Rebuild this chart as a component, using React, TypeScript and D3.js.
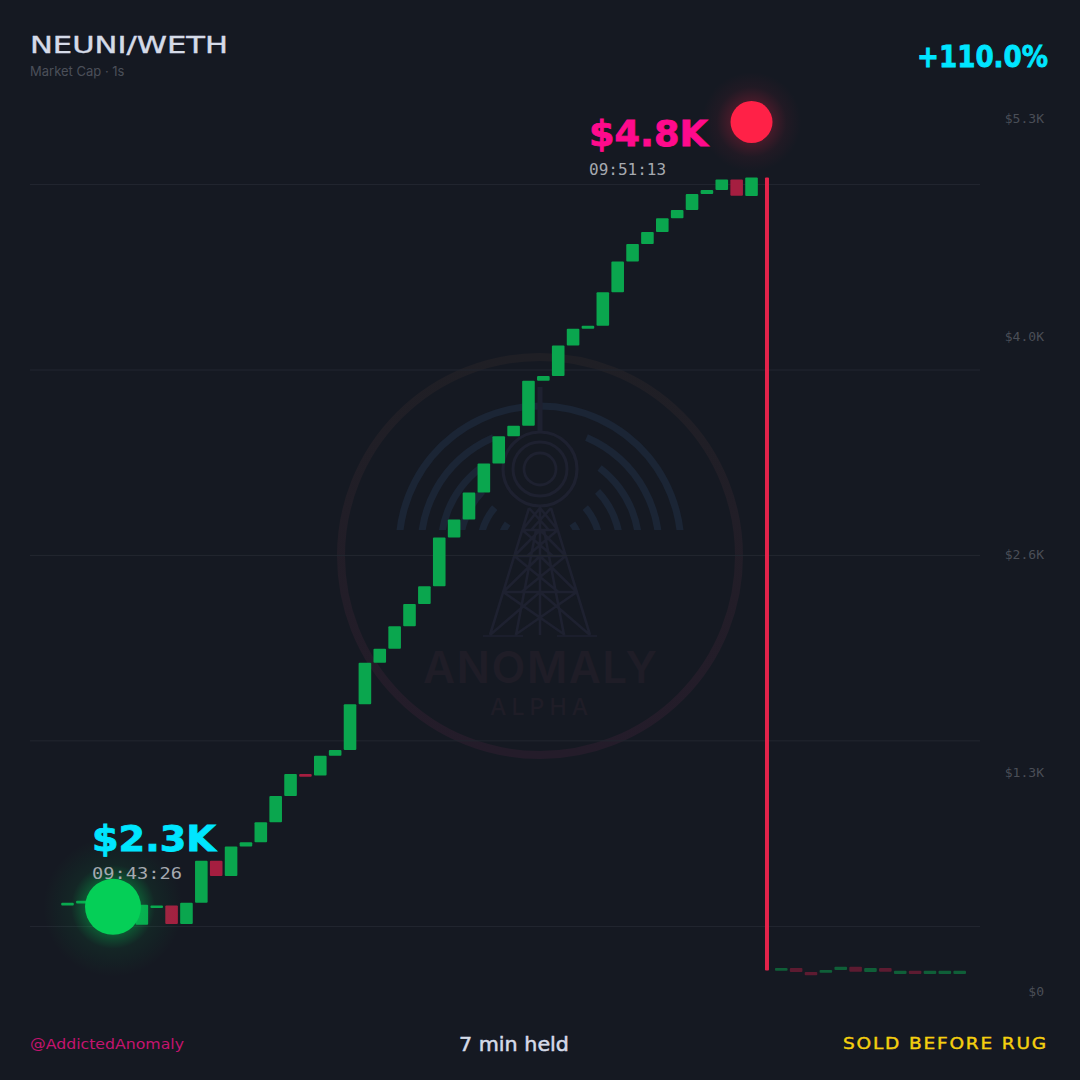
import React from "react";
import * as d3 from "d3";

const title = "NEUNI/WETH";
const subtitle = "Market Cap · 1s";
const gainLabel = "+110.0%";
const handle = "@AddictedAnomaly";
const heldLabel = "7 min held";
const statusLabel = "SOLD BEFORE RUG";

// candle open / close in dollars of market cap, one per second bucket
const opens = [2302, 2309, 2318, 2307, 2304, 2234, 2293, 2302, 2237, 2311, 2458, 2405, 2508, 2523, 2593, 2685, 2762, 2757, 2826, 2846, 3006, 3151, 3200, 3279, 3357, 3419, 3590, 3653, 3747, 3849, 3944, 3981, 4138, 4155, 4262, 4320, 4331, 4448, 4556, 4617, 4659, 4707, 4736, 4792, 4806, 4843, 4785, 4850, 2073, 2083, 2069, 2066, 2076, 2087, 2069, 2083, 2062, 2073, 2062, 2062, 2062];
const closes = [2311, 2318, 2307, 2304, 2234, 2304, 2302, 2237, 2311, 2458, 2405, 2508, 2523, 2593, 2685, 2762, 2752, 2826, 2846, 3006, 3151, 3200, 3279, 3357, 3419, 3590, 3653, 3747, 3849, 3944, 3981, 4138, 4155, 4262, 4320, 4331, 4448, 4556, 4617, 4659, 4707, 4736, 4792, 4806, 4843, 4786, 4850, 2074, 2083, 2069, 2058, 2076, 2087, 2070, 2083, 2070, 2073, 2062, 2073, 2073, 2073];
const rugIndex = 47;

const gridValues = [4825, 4176, 3527, 2878, 2228];
const axisLabels = ["$5.3K", "$4.0K", "$2.6K", "$1.3K", "$0"];

const entryIndex = 3;
const entryValue = 2297;
const entryLabel = "$2.3K";
const entryTime = "09:43:26";
const exitIndex = 46;
const exitLabel = "$4.8K";
const exitTime = "09:51:13";

const BG = "#151922";
const UP = "#0aa64e";
const DOWN = "#a51e40";
const CYAN = "#00e5ff";
const PINK = "#ff0a8c";
const MONO = "'DejaVu Sans Mono', monospace";
const WIDE = "'DejaVu Sans', sans-serif";

const x = d3.scaleLinear().domain([0, 60]).range([67.5, 959.7]);
const y = d3.scaleLinear().domain([2002.5, 5058]).range([991, 118]);
const axisY = d3.scalePoint<string>().domain(axisLabels).range([118, 991]);

const CX = 540;
const ARC_Y = 547;
const arcSpecs: [number, number][] = [
  [141, 0],
  [119, 23],
  [99, 37],
  [80, 46],
  [60, 49],
  [40, 54],
];

function towerPath() {
  const p = d3.path();
  const half = (yy: number) => 11 + ((yy - 508) / 127) * 39;
  const levels = [508, 530, 556, 592, 635];
  const seg = (a: number, b: number, c: number, d: number) => {
    p.moveTo(a, b);
    p.lineTo(c, d);
  };
  seg(CX - 11, 508, CX - 50, 635);
  seg(CX + 11, 508, CX + 50, 635);
  seg(CX, 505, CX, 635);
  seg(CX - 4, 530, CX - 24, 635);
  seg(CX + 4, 530, CX + 24, 635);
  levels.slice(0, -1).forEach((l, i) => {
    const n = levels[i + 1];
    seg(CX - half(l), l, CX + half(n) * 0.5, n);
    seg(CX + half(l), l, CX - half(n) * 0.5, n);
    seg(CX - half(n), n, CX, l);
    seg(CX + half(n), n, CX, l);
    if (i < 3) seg(CX - half(n), n, CX + half(n), n);
  });
  return p.toString();
}

function Watermark() {
  const arcGen = d3.arc();
  const rad = (deg: number) => (deg * Math.PI) / 180;
  return (
    <g>
      <circle cx={CX} cy={556} r={199} fill="none" stroke="url(#ringGrad)" strokeWidth={8} />
      <g clipPath="url(#arcClip)" fill="#1b2535">
        {arcSpecs.map(([r, start], i) => {
          const a = { innerRadius: r - 3.5, outerRadius: r + 3.5 };
          return start === 0 ? (
            <path key={i} transform={`translate(${CX},${ARC_Y})`} d={arcGen({ ...a, startAngle: rad(-100), endAngle: rad(100) }) as string} />
          ) : (
            <g key={i} transform={`translate(${CX},${ARC_Y})`}>
              <path d={arcGen({ ...a, startAngle: rad(start), endAngle: rad(100) }) as string} />
              <path d={arcGen({ ...a, startAngle: rad(-100), endAngle: rad(-start) }) as string} />
            </g>
          );
        })}
      </g>
      <g fill="none" stroke="#1e2130">
        <line x1={CX} y1={387} x2={CX} y2={432} strokeWidth={5} />
        <circle cx={CX} cy={469} r={37} strokeWidth={3.2} />
        <circle cx={CX} cy={469} r={27} strokeWidth={3} />
        <circle cx={CX} cy={469} r={16} strokeWidth={2.8} />
        <path d={towerPath()} strokeWidth={2.6} />
        <line x1={483} y1={636} x2={523} y2={636} strokeWidth={1.5} />
        <line x1={557} y1={636} x2={597} y2={636} strokeWidth={1.5} />
      </g>
      <text x={423} y={683} textLength={234} lengthAdjust="spacing" fontFamily="Inter, sans-serif" fontWeight={600} fontSize={44} fill="#1f1d27">ANOMALY</text>
      <text x={490} y={715} textLength={98} lengthAdjust="spacing" fontFamily="Inter, sans-serif" fontWeight={500} fontSize={23} fill="#1f1d27">ALPHA</text>
    </g>
  );
}

export default function App() {
  const candleWidth = 12.6;
  const entryX = x(entryIndex) + 0.9;
  const entryY = y(entryValue);
  const exitX = x(exitIndex);
  const exitY = 122;
  return (
    <svg width={1080} height={1080} viewBox="0 0 1080 1080" style={{ position: "absolute", left: 0, top: 0, display: "block" }}>
      <defs>
        <linearGradient id="ringGrad" x1="0" y1="0" x2="0" y2="1">
          <stop offset="0" stopColor="#1f1f25" />
          <stop offset="1" stopColor="#241c2a" />
        </linearGradient>
        <radialGradient id="greenGlow">
          <stop offset="0.4" stopColor="#00d055" stopOpacity={0.32} />
          <stop offset="0.6" stopColor="#00d055" stopOpacity={0.07} />
          <stop offset="1" stopColor="#00d055" stopOpacity={0} />
        </radialGradient>
        <radialGradient id="redGlow">
          <stop offset="0.42" stopColor="#ff2147" stopOpacity={0.2} />
          <stop offset="0.7" stopColor="#ff2147" stopOpacity={0.05} />
          <stop offset="1" stopColor="#ff2147" stopOpacity={0} />
        </radialGradient>
        <clipPath id="arcClip">
          <rect x={300} y={300} width={480} height={230} />
        </clipPath>
      </defs>
      <rect width={1080} height={1080} fill={BG} />
      <Watermark />
      {gridValues.map((v) => (
        <line key={v} x1={30} x2={980} y1={y(v)} y2={y(v)} stroke="#232730" strokeWidth={1} />
      ))}
      {axisLabels.map((t) => (
        <text key={t} x={1044} y={(axisY(t) as number) + 4.5} textAnchor="end" textLength={t.length * 7.85} lengthAdjust="spacingAndGlyphs" fontFamily={MONO} fontSize={12.5} fill="#4a4e57">{t}</text>
      ))}
      {opens.map((o, i) => {
        const c = closes[i];
        const top = y(Math.max(o, c));
        const h = Math.abs(y(o) - y(c));
        if (i === rugIndex) {
          return <rect key={i} x={x(i) - 1.4} y={top} width={4} height={h} rx={1} fill="#e3234a" />;
        }
        return (
          <rect key={i} x={x(i) - candleWidth / 2} y={top} width={candleWidth} height={h} rx={1}
            fill={c >= o ? UP : DOWN} opacity={i > rugIndex ? 0.5 : 1} />
        );
      })}

      <circle cx={entryX} cy={entryY} r={70} fill="url(#greenGlow)" />
      <circle cx={entryX} cy={entryY} r={28} fill="#05cf57" />
      <circle cx={exitX} cy={exitY} r={50} fill="url(#redGlow)" />
      <circle cx={exitX} cy={exitY} r={21} fill="#ff2147" />

      <text x={92} y={851} textLength={124} lengthAdjust="spacingAndGlyphs" fontFamily={WIDE} fontWeight={700} fontSize={35} stroke={CYAN} strokeWidth={0.8} fill={CYAN}>{entryLabel}</text>
      <text x={92} y={879} textLength={90} lengthAdjust="spacingAndGlyphs" fontFamily={MONO} fontSize={16} fill="#a6a9b0">{entryTime}</text>
      <text x={589} y={146} textLength={119} lengthAdjust="spacingAndGlyphs" fontFamily={WIDE} fontWeight={700} fontSize={35} stroke={PINK} strokeWidth={0.8} fill={PINK}>{exitLabel}</text>
      <text x={589} y={175} textLength={77} lengthAdjust="spacingAndGlyphs" fontFamily={MONO} fontSize={16} fill="#a6a9b0">{exitTime}</text>

      <text x={30} y={53} textLength={198} lengthAdjust="spacingAndGlyphs" fontFamily={WIDE} fontSize={23} fontWeight={500} stroke="#d5dbe8" strokeWidth={0.4} fill="#d5dbe8">{title}</text>
      <text x={30} y={76} fontFamily="Inter, sans-serif" fontSize={13} fill="#4b4f59">{subtitle}</text>
      <text x={917} y={67} textLength={131} lengthAdjust="spacingAndGlyphs" fontFamily={WIDE} fontWeight={700} fontSize={31} stroke={CYAN} strokeWidth={0.8} fill={CYAN}>{gainLabel}</text>

      <text x={30} y={1049} textLength={154} lengthAdjust="spacingAndGlyphs" fontFamily={WIDE} fontSize={14} fill="#c4146f">{handle}</text>
      <text x={459} y={1051} textLength={110} lengthAdjust="spacingAndGlyphs" fontFamily={WIDE} fontSize={19} stroke="#d5dbe8" strokeWidth={0.5} fill="#d5dbe8">{heldLabel}</text>
      <text x={843} y={1049} textLength={205} lengthAdjust="spacingAndGlyphs" letterSpacing={1.5} fontFamily={WIDE} fontWeight={500} stroke="#f5d00f" strokeWidth={0.4} fontSize={15.5} fill="#f5d00f">{statusLabel}</text>
    </svg>
  );
}
